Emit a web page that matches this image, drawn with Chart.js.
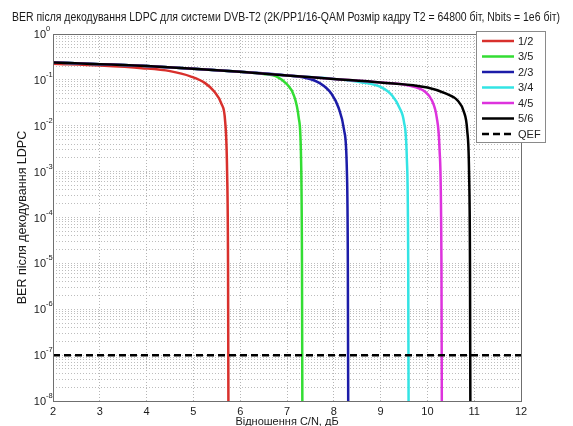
<!DOCTYPE html>
<html>
<head>
<meta charset="utf-8">
<script src="https://cdn.jsdelivr.net/npm/chart.js@4/dist/chart.umd.min.js"></script>
<style>
  html, body { margin: 0; padding: 0; background: #fff; }
  #wrap { width: 573px; height: 426px; }
</style>
</head>
<body>
<div id="wrap"><canvas id="berChart" width="573" height="426"></canvas></div>
<script>
// code rates and their BER curves
const labels = ["1/2", "3/5", "2/3", "3/4", "4/5", "5/6"];
const colors = ["#d8302c", "#33dd33", "#1c1ca8", "#33e4e4", "#dd33dd", "#000000"];

const x12 = [2, 3, 3.9, 4.5, 4.95, 5.25, 5.45, 5.6, 5.68, 5.72, 5.74, 5.75];
const y12 = [0.225, 0.205, 0.18, 0.155, 0.118, 0.085, 0.055, 0.03, 0.012, 1e-3, 1e-5, 1e-9];

const x35 = [2, 3, 4, 5, 6, 6.5, 6.8, 7.0, 7.15, 7.25, 7.3, 7.32, 7.33];
const y35 = [0.24, 0.22, 0.2, 0.175, 0.15, 0.135, 0.115, 0.08, 0.045, 0.015, 2e-3, 1e-5, 1e-9];

const x23 = [2, 3, 4, 5, 6, 7, 7.4, 7.7, 7.95, 8.1, 8.22, 8.28, 8.3, 8.31];
const y23 = [0.24, 0.22, 0.2, 0.175, 0.15, 0.125, 0.11, 0.085, 0.05, 0.025, 0.008, 1e-3, 1e-5, 1e-9];

const x34 = [2, 3, 4, 5, 6, 7, 8, 8.6, 9.0, 9.25, 9.4, 9.5, 9.56, 9.59, 9.6];
const y34 = [0.24, 0.22, 0.2, 0.175, 0.15, 0.125, 0.105, 0.088, 0.07, 0.045, 0.025, 0.012, 2e-3, 1e-5, 1e-9];

const x45 = [2, 3, 4, 5, 6, 7, 8, 9, 9.6, 9.95, 10.1, 10.2, 10.26, 10.3, 10.31];
const y45 = [0.24, 0.22, 0.2, 0.175, 0.15, 0.125, 0.105, 0.088, 0.075, 0.055, 0.035, 0.015, 3e-3, 1e-5, 1e-9];

const x56 = [2, 3, 4, 5, 6, 7, 8, 9, 10, 10.4, 10.65, 10.78, 10.85, 10.89, 10.91, 10.92];
const y56 = [0.24, 0.22, 0.2, 0.175, 0.15, 0.125, 0.105, 0.088, 0.068, 0.05, 0.035, 0.02, 0.008, 1e-3, 1e-5, 1e-9];

// quasi error free level
const qefX = [2, 12];
const qefY = [1e-7, 1e-7];

const yTicks = [1e-8, 2e-8, 3e-8, 4e-8, 5e-8, 6e-8, 7e-8, 8e-8, 9e-8,
  1e-7, 2e-7, 3e-7, 4e-7, 5e-7, 6e-7, 7e-7, 8e-7, 9e-7,
  1e-6, 2e-6, 3e-6, 4e-6, 5e-6, 6e-6, 7e-6, 8e-6, 9e-6,
  1e-5, 2e-5, 3e-5, 4e-5, 5e-5, 6e-5, 7e-5, 8e-5, 9e-5,
  1e-4, 2e-4, 3e-4, 4e-4, 5e-4, 6e-4, 7e-4, 8e-4, 9e-4,
  1e-3, 2e-3, 3e-3, 4e-3, 5e-3, 6e-3, 7e-3, 8e-3, 9e-3,
  1e-2, 2e-2, 3e-2, 4e-2, 5e-2, 6e-2, 7e-2, 8e-2, 9e-2,
  1e-1, 2e-1, 3e-1, 4e-1, 5e-1, 6e-1, 7e-1, 8e-1, 9e-1, 1];
const yDecades = [1e-8, 1e-7, 1e-6, 1e-5, 1e-4, 1e-3, 1e-2, 1e-1, 1];
const yExponents = ["-8", "-7", "-6", "-5", "-4", "-3", "-2", "-1", "0"];

const titleText = "BER після декодування LDPC для системи DVB-T2 (2K/PP1/16-QAM Розмір кадру T2 = 64800 біт, Nbits = 1e6 біт)";

const curves = [[x12, y12], [x35, y35], [x23, y23], [x34, y34], [x45, y45], [x56, y56]];
const pts = (xs, ys) => xs.map((x, i) => ({ x: x, y: ys[i] }));

const datasets = curves.map((c, i) => ({
  label: labels[i],
  data: pts(c[0], c[1]),
  borderColor: colors[i],
  borderWidth: 2.5,
  pointRadius: 0,
  cubicInterpolationMode: "monotone",
  order: 10 - i,
}));
datasets.push({
  label: "QEF",
  data: pts(qefX, qefY),
  borderColor: "#000",
  borderWidth: 2.5,
  borderDash: [7, 4],
  pointRadius: 0,
  order: 0,
});

const font = "'Liberation Sans', Arial, sans-serif";

// title over the whole figure, 10^n labels with raised exponents,
// matlab-like box around the axes and the legend in the top right corner
const matlabLook = {
  id: "matlabLook",
  afterDraw(chart) {
    const { ctx, chartArea: a } = chart;
    const yScale = chart.scales.y;
    ctx.save();

    ctx.fillStyle = "#1a1a1a";
    ctx.font = "12.5px " + font;
    ctx.textAlign = "center";
    ctx.textBaseline = "middle";
    ctx.fillText(titleText, 286, 18, 548);

    yDecades.forEach((v, i) => {
      const y = yScale.getPixelForValue(v);
      ctx.textAlign = "right";
      ctx.font = "11px " + font;
      ctx.fillText("10", a.left - 7, y + 1);
      ctx.textAlign = "left";
      ctx.font = "7.5px " + font;
      ctx.fillText(yExponents[i], a.left - 7, y - 5);
    });

    ctx.strokeStyle = "#6f6f6f";
    ctx.lineWidth = 1;
    ctx.setLineDash([]);
    ctx.strokeRect(a.left + 0.5, a.top + 0.5, a.right - a.left, a.bottom - a.top);

    const lx = 476, ly = 31, lw = 69, lh = 111;
    ctx.fillStyle = "#fff";
    ctx.fillRect(lx, ly, lw, lh);
    ctx.strokeStyle = "#8a8a8a";
    ctx.strokeRect(lx + 0.5, ly + 0.5, lw, lh);
    ctx.font = "11px " + font;
    ctx.textAlign = "left";
    ctx.textBaseline = "middle";
    chart.data.datasets.forEach((ds, i) => {
      const y = ly + 10 + i * 15.5;
      ctx.strokeStyle = ds.borderColor;
      ctx.lineWidth = 2.5;
      ctx.setLineDash(ds.borderDash || []);
      ctx.beginPath();
      ctx.moveTo(lx + 6, y);
      ctx.lineTo(lx + 38, y);
      ctx.stroke();
      ctx.fillStyle = "#222";
      ctx.fillText(ds.label, lx + 42, y + 0.5);
    });
    ctx.restore();
  },
};

new Chart(document.getElementById("berChart"), {
  type: "line",
  data: { datasets: datasets },
  plugins: [matlabLook],
  options: {
    responsive: false,
    animation: false,
    layout: { padding: { left: 0, right: 52, top: 34, bottom: 0 } },
    plugins: {
      legend: { display: false },
      tooltip: { enabled: false },
    },
    scales: {
      x: {
        type: "linear",
        min: 2,
        max: 12,
        afterFit(scale) { scale.height = 25; },
        ticks: {
          stepSize: 1,
          color: "#1a1a1a",
          font: { family: font, size: 11 },
          padding: 4,
          maxRotation: 0,
        },
        grid: { color: "#b5b5b5", drawTicks: false },
        border: { display: false, dash: [1, 2] },
        title: {
          display: true,
          text: "Відношення С/N, дБ",
          color: "#1a1a1a",
          font: { family: font, size: 11 },
          padding: { top: 0, bottom: -3 },
        },
      },
      y: {
        type: "logarithmic",
        min: 1e-8,
        max: 1,
        afterFit(scale) { scale.width = 53; },
        afterBuildTicks(scale) {
          scale.ticks = yTicks.map((v) => ({ value: v }));
        },
        ticks: {
          autoSkip: false,
          callback: () => "",
        },
        grid: { color: "#bdbdbd", drawTicks: false },
        border: { display: false, dash: [1, 2] },
        title: {
          display: true,
          text: "BER після декодування LDPC",
          color: "#1a1a1a",
          font: { family: font, size: 12.5 },
          padding: { top: 15, bottom: 0 },
        },
      },
    },
  },
});
</script>
</body>
</html>
